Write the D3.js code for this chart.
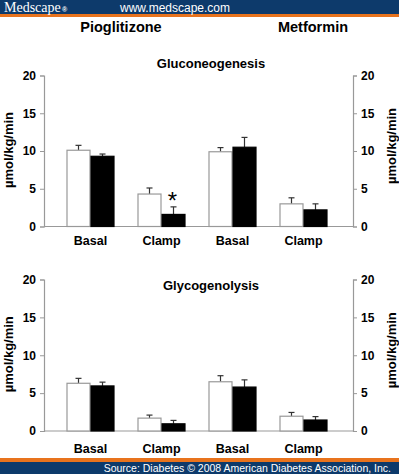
<!DOCTYPE html>
<html><head><meta charset="utf-8">
<script src="https://cdn.jsdelivr.net/npm/d3@7/dist/d3.min.js"></script>
<style>
body{margin:0;background:#fff;}
svg{display:block;font-family:"Liberation Sans",Arial,sans-serif;}
</style></head><body>
<script>
// ---- data ----
const groups = ["P-Basal","P-Clamp","M-Basal","M-Clamp"];
const groupLabels = ["Basal","Clamp","Basal","Clamp"];
const drugs = ["Pioglitizone","Metformin"];
const series = ["before","after"];
const yTicks = [0,5,10,15,20];
// Gluconeogenesis
const gngWhite = [10.1, 4.3, 9.9, 3.0];
const gngWhiteErr = [0.65, 0.8, 0.55, 0.8];
const gngBlack = [9.3, 1.6, 10.5, 2.2];
const gngBlackErr = [0.3, 1.0, 1.3, 0.8];
// Glycogenolysis
const glyWhite = [6.3, 1.7, 6.5, 1.95];
const glyWhiteErr = [0.65, 0.4, 0.8, 0.5];
const glyBlack = [5.95, 0.95, 5.8, 1.45];
const glyBlackErr = [0.5, 0.45, 0.95, 0.45];

const W = 399, H = 474;
const svg = d3.select("body").append("svg").attr("width", W).attr("height", H);

// header
svg.append("rect").attr("x",0).attr("y",0).attr("width",W).attr("height",14).attr("fill","#0d3a6b");
svg.append("rect").attr("x",0).attr("y",14).attr("width",W).attr("height",3).attr("fill","#e8731d");
svg.append("text").attr("x",4).attr("y",12).attr("fill","#fff")
  .style("font-family","'Liberation Serif',serif").style("font-size","14px")
  .text("Medscape");
svg.append("text").attr("x",62).attr("y",11.5).attr("fill","#fff")
  .style("font-family","'Liberation Sans',sans-serif").style("font-size","7px").style("font-weight","bold").text("®");
svg.append("text").attr("x",120).attr("y",12).attr("fill","#fff").style("font-size","12px").text("www.medscape.com");

// footer
svg.append("rect").attr("x",0).attr("y",458).attr("width",W).attr("height",4).attr("fill","#e8731d");
svg.append("rect").attr("x",0).attr("y",462).attr("width",W).attr("height",12).attr("fill","#0d3a6b");
svg.append("text").attr("x",391).attr("y",471.5).attr("text-anchor","end").attr("fill","#fff")
  .style("font-size","10.5px").text("Source: Diabetes \u00a9 2008 American Diabetes Association, Inc.");

// drug titles
const titleX = [121, 313];
drugs.forEach((d,i)=>{
  svg.append("text").attr("x",titleX[i]).attr("y",32).attr("text-anchor","middle")
    .style("font-size","14.5px").style("font-weight","bold").text(d);
});

const x = d3.scaleBand().domain(groups).range([55, 339]).paddingInner(0).paddingOuter(0);
const xs = d3.scaleBand().domain(series).range([0, 48]);

function panel(title, titleY, y0, y1, white, whiteErr, black, blackErr, labelY, star){
  const y = d3.scaleLinear().domain([0,20]).range([y0, y1]);
  const g = svg.append("g");
  g.append("text").attr("x",211).attr("y",titleY).attr("text-anchor","middle")
    .style("font-size","13px").style("font-weight","bold").text(title);
  g.append("line").attr("x1",44).attr("x2",353).attr("y1",y(0)).attr("y2",y(0)).attr("stroke","#999").attr("stroke-width",1.2);
  const axL = g.append("g").attr("transform","translate(44,0)").call(d3.axisLeft(y).tickValues(yTicks).tickSize(4).tickPadding(4));
  const axR = g.append("g").attr("transform","translate(353,0)").call(d3.axisRight(y).tickValues(yTicks).tickSize(4).tickPadding(4));
  [axL,axR].forEach(a=>{
    a.select(".domain").attr("stroke","#999").attr("stroke-width",1.2);
    a.selectAll(".tick line").attr("stroke","#999");
    a.selectAll(".tick text").style("font-size","12px").style("font-weight","bold").attr("fill","#000")
      .style("font-family","'Liberation Sans',Arial,sans-serif");
  });
  const yc = (y0+y1)/2 - 1;
  g.append("text").attr("transform",`translate(13,${yc}) rotate(-90)`).attr("text-anchor","middle")
    .style("font-size","13px").style("font-weight","bold").text("\u00b5mol/kg/min");
  g.append("text").attr("transform",`translate(396,${yc-4}) rotate(-90)`).attr("text-anchor","middle")
    .style("font-size","13px").style("font-weight","bold").text("\u00b5mol/kg/min");

  const data = [];
  groups.forEach((k,i)=>{
    data.push({g:k, s:"before", v:white[i], e:whiteErr[i]});
    data.push({g:k, s:"after", v:black[i], e:blackErr[i]});
  });
  const bw = xs.bandwidth();
  const bx = d => x(d.g) + (x.bandwidth()-48)/2 + xs(d.s);
  data.forEach(d=>{
    const cx = bx(d) + bw/2;
    g.append("line").attr("x1",cx).attr("x2",cx).attr("y1",y(d.v)).attr("y2",y(d.v+d.e)).attr("stroke","#333").attr("stroke-width",1.2);
    g.append("line").attr("x1",cx-3).attr("x2",cx+3).attr("y1",y(d.v+d.e)).attr("y2",y(d.v+d.e)).attr("stroke","#333").attr("stroke-width",1.2);
  });
  g.selectAll("rect.bar").data(data).join("rect").attr("class","bar")
    .attr("x", d=>bx(d)+0.5).attr("width", bw-1)
    .attr("y", d=>y(d.v)).attr("height", d=>y(0)-y(d.v))
    .attr("fill", d=>d.s==="before" ? "#fff" : "#000")
    .attr("stroke", d=>d.s==="before" ? "#999" : "#000").attr("stroke-width",1.2);
  groups.forEach((k,i)=>{
    g.append("text").attr("x", x(k)+x.bandwidth()/2).attr("y",labelY).attr("text-anchor","middle")
      .style("font-size","12.5px").style("font-weight","bold").text(groupLabels[i]);
  });
  if(star){
    const d = data[3];
    g.append("text").attr("x", bx(d)+bw/2 - 1).attr("y", y(d.v+d.e) + 2).attr("text-anchor","middle")
      .style("font-size","24px").style("font-weight","normal").text("*");
  }
}

panel("Gluconeogenesis", 68, 226.5, 75.5, gngWhite, gngWhiteErr, gngBlack, gngBlackErr, 245, true);
panel("Glycogenolysis", 290, 431, 279.5, glyWhite, glyWhiteErr, glyBlack, glyBlackErr, 453, false);
</script>
</body></html>
